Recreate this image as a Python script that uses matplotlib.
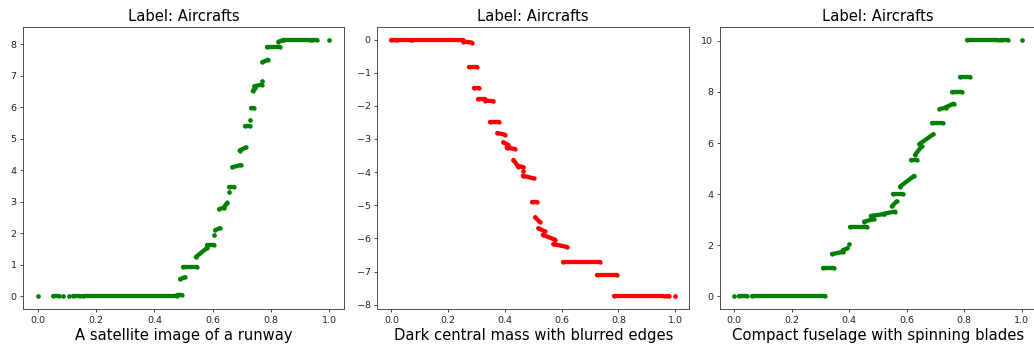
import matplotlib
matplotlib.use("Agg")
import matplotlib.pyplot as plt

titles = ["Label: Aircrafts", "Label: Aircrafts", "Label: Aircrafts"]
xlabels = ["A satellite image of a runway",
           "Dark central mass with blurred edges",
           "Compact fuselage with spinning blades"]
colors = ["g", "r", "g"]

# each run of dots: (x start, x end) and (y start, y end)
runway_x = [(0.0, 0.0), (0.054, 0.074), (0.088, 0.088), (0.107, 0.107), (0.122, 0.145),
            (0.157, 0.477), (0.477, 0.494), (0.488, 0.505), (0.499, 0.545), (0.542, 0.582),
            (0.582, 0.604), (0.605, 0.605), (0.608, 0.625), (0.622, 0.640), (0.640, 0.650),
            (0.656, 0.656), (0.656, 0.673), (0.667, 0.696), (0.692, 0.714), (0.710, 0.728),
            (0.728, 0.728), (0.730, 0.742), (0.737, 0.745), (0.743, 0.768), (0.768, 0.768),
            (0.770, 0.790), (0.785, 0.831), (0.825, 0.842), (0.842, 0.934), (0.940, 0.956),
            (1.0, 1.0)]
runway_y = [(0, 0), (0, 0), (0, 0), (0, 0), (0, 0),
            (0, 0), (0.05, 0.05), (0.55, 0.61), (0.95, 0.95), (1.25, 1.55),
            (1.64, 1.64), (1.96, 1.96), (2.1, 2.17), (2.77, 2.82), (2.85, 2.98),
            (3.3, 3.3), (3.46, 3.46), (4.1, 4.17), (4.63, 4.73), (5.42, 5.42),
            (5.59, 5.59), (5.97, 5.97), (6.52, 6.6), (6.67, 6.72), (6.84, 6.84),
            (7.43, 7.51), (7.92, 7.92), (8.08, 8.13), (8.15, 8.15), (8.15, 8.15),
            (8.15, 8.15)]

mass_x = [(0.0, 0.012), (0.018, 0.065), (0.071, 0.253), (0.253, 0.283), (0.273, 0.300),
          (0.292, 0.310), (0.304, 0.330), (0.330, 0.359), (0.348, 0.380), (0.373, 0.400),
          (0.394, 0.412), (0.406, 0.435), (0.430, 0.447), (0.445, 0.465), (0.463, 0.463),
          (0.463, 0.502), (0.494, 0.512), (0.506, 0.524), (0.518, 0.541), (0.533, 0.577),
          (0.571, 0.620), (0.606, 0.735), (0.724, 0.794), (0.785, 0.960), (0.970, 0.980),
          (1.0, 1.0)]
mass_y = [(0, 0), (0, 0), (0, 0), (-0.06, -0.09), (-0.83, -0.83),
          (-1.47, -1.47), (-1.8, -1.8), (-1.84, -1.86), (-2.48, -2.48), (-2.82, -2.87),
          (-3.1, -3.18), (-3.26, -3.3), (-3.63, -3.83), (-3.81, -3.85), (-3.98, -3.98),
          (-4.11, -4.19), (-4.89, -4.89), (-5.36, -5.51), (-5.69, -5.79), (-5.89, -6.04),
          (-6.17, -6.26), (-6.72, -6.72), (-7.1, -7.1), (-7.75, -7.75), (-7.75, -7.75),
          (-7.75, -7.75)]

blades_x = [(0.0, 0.0), (0.018, 0.044), (0.061, 0.316), (0.308, 0.348), (0.340, 0.377),
            (0.377, 0.394), (0.400, 0.400), (0.403, 0.461), (0.452, 0.485), (0.475, 0.520),
            (0.520, 0.560), (0.548, 0.565), (0.554, 0.586), (0.577, 0.626), (0.614, 0.637),
            (0.629, 0.652), (0.644, 0.693), (0.688, 0.725), (0.714, 0.735), (0.735, 0.763),
            (0.757, 0.794), (0.785, 0.820), (0.809, 0.919), (0.928, 0.954), (1.0, 1.0)]
blades_y = [(0, 0), (0, 0), (0, 0), (1.13, 1.13), (1.66, 1.74),
            (1.8, 1.89), (2.05, 2.05), (2.7, 2.7), (2.93, 3.02), (3.15, 3.22),
            (3.24, 3.32), (3.52, 3.72), (4.0, 4.0), (4.3, 4.72), (5.35, 5.35),
            (5.54, 5.87), (5.96, 6.35), (6.78, 6.78), (7.33, 7.38), (7.4, 7.54),
            (7.98, 7.98), (8.6, 8.6), (10.05, 10.05), (10.05, 10.05), (10.05, 10.05)]

panels_x = [runway_x, mass_x, blades_x]
panels_y = [runway_y, mass_y, blades_y]
yticks = [list(range(0, 9)), list(range(-8, 1)), list(range(0, 11, 2))]

fig = plt.figure(figsize=(10.34, 3.49), dpi=100)
boxes = [(23.1, 320.9), (377.3, 312.0), (719.8, 316.3)]
for k in range(3):
    left, width = boxes[k]
    ax = fig.add_axes([left / 1034, 1 - 309.3 / 349, width / 1034, 282.6 / 349])
    for (x0, x1), (y0, y1) in zip(panels_x[k], panels_y[k]):
        ax.plot([x0, x1], [y0, y1], '-o', color=colors[k], ms=3.1, lw=3.1,
                mew=0, solid_capstyle='round')
    ax.set_xticks([0.0, 0.2, 0.4, 0.6, 0.8, 1.0])
    ax.set_yticks(yticks[k])
    ax.tick_params(labelsize=6.8, length=2.4, width=0.55, pad=2.4, colors='#222222')
    for s in ax.spines.values():
        s.set_linewidth(0.6)
        s.set_color('#333333')
    ax.set_title(titles[k], fontsize=10.6, pad=4)
    ax.set_xlabel(xlabels[k], fontsize=10.6, labelpad=2.5)

fig.savefig("out.png", dpi=100)
